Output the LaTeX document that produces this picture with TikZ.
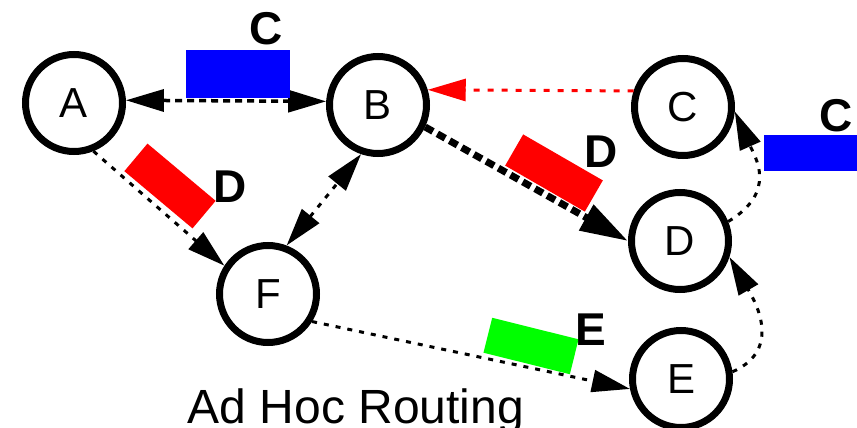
\documentclass[tikz,border=0pt]{standalone}
\usepackage{fontspec}
\setmainfont{Liberation Sans}
\usetikzlibrary{arrows.meta,positioning}

\tikzset{
  station/.style={circle,draw,line width=7pt,minimum size=97pt,inner sep=0pt,
    font=\fontsize{42}{50}\selectfont},
  packet/.style={minimum width=89pt,minimum height=36pt,inner sep=0pt},
  tag/.style={font=\fontsize{46}{54}\selectfont\bfseries,anchor=base,inner sep=0pt},
  link/.style={line width=3pt,dash pattern=on 5pt off 7pt},
}

\begin{document}
\begin{tikzpicture}[x=1pt,y=-1pt,>={Triangle[length=38pt,width=22pt]}]
\useasboundingbox (0,0) rectangle (857,428);
% Stations
\foreach \n/\x/\y in {A/74/103,B/378/105,C/683/107,D/680/241,E/681/379,F/268/294}
  \node[station] (\n) at (\x,\y) {\n};

% Links between stations
\draw[link,<->,line width=3.5pt,dash pattern=on 7pt off 5pt] (A.3) -- (B.176);
\draw[link,red,->,dash pattern=on 6pt off 8pt] (C.162) -- (B.17);
\draw[link,line width=7pt,dash pattern=on 9pt off 5pt,-{Triangle[length=48pt,width=28pt]}] (B.-25) -- (D.west);
\draw[link,->] (A.-68) -- (F.147);
\draw[link,<->] (F.69) -- (B.-109);
\draw[link,->] (F.-32) -- (E.191);
\draw[link,->] (D.22) .. controls +(50,-30) and +(20,45) .. (C.-5);
\draw[link,->] (E.8) .. controls +(50,-22) and +(26,45) .. (D.-18);

% Packets in flight
\node[packet,fill=blue,minimum width=104pt,minimum height=48pt] (pktAB) at (238,74) {};
\node[packet,fill=blue,anchor=west,minimum width=93pt] (pktDC) at (764,153) {};
\node[packet,fill=red,rotate=-40] (pktAF) at (170,186) {};
\node[packet,fill=red,rotate=-30,minimum width=92pt] (pktBD) at (554,173) {};
\node[packet,fill=green,rotate=-14] (pktFE) at (531,346) {};

% Destination of each packet
\node[tag] (tagAB) at (266,45) {C};
\node[tag] (tagDC) at (836,131) {C};
\node[tag] (tagAF) at (230,202) {D};
\node[tag] (tagBD) at (601,167) {D};
\node[tag] (tagFE) at (591,345) {E};

% Caption
\node[font=\fontsize{48}{56}\selectfont,anchor=base] (caption) at (356,423) {Ad Hoc Routing};
\end{tikzpicture}
\end{document}
